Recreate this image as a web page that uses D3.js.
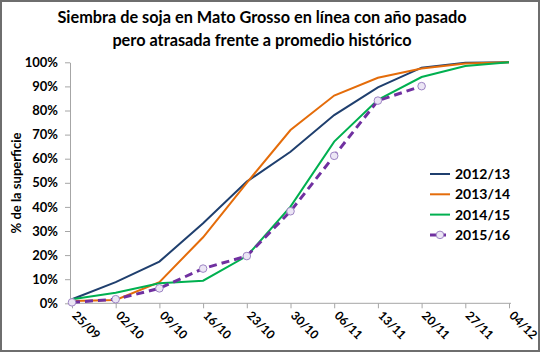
<!DOCTYPE html>
<html>
<head>
<meta charset="utf-8">
<script src="https://cdn.jsdelivr.net/npm/d3@7"></script>
<style>
  body { margin: 0; background: #fff; }
  svg { display: block; font-family: "Lato", "Open Sans", sans-serif; }
</style>
</head>
<body>
<div id="chart"></div>
<script>
// Week labels (x axis)
const weeks = ["25/09", "02/10", "09/10", "16/10", "23/10", "30/10", "06/11", "13/11", "20/11", "27/11", "04/12"];

// Planted share, % of area
const s2012 = [1.7, 8.8, 17.3, 33.2, 50.5, 62.9, 78.1, 89.6, 97.8, 99.8, 100];
const s2013 = [1.0, 1.4, 8.8, 27.4, 50.0, 71.9, 86.2, 93.6, 97.4, 99.5, 100];
const s2014 = [1.7, 4.4, 8.3, 9.4, 19.6, 40.1, 67.1, 84.4, 93.9, 98.5, 100];
const s2015 = [0.4, 1.7, 6.2, 14.4, 19.6, 38.2, 61.2, 84.1, 90.1];

const seriesNames = ["2012/13", "2013/14", "2014/15", "2015/16"];
const yTicks = [0, 10, 20, 30, 40, 50, 60, 70, 80, 90, 100];

function init() {
  const width = 540, height = 352;

  const svg = d3.select("#chart")
    .append("svg")
      .attr("width", width)
      .attr("height", height);

  // outer frame
  svg.append("rect")
    .attr("x", 1).attr("y", 1)
    .attr("width", width - 2).attr("height", height - 2)
    .attr("fill", "#fff")
    .attr("stroke", "#6e6e6e")
    .attr("stroke-width", 2);

  // Title
  const title = svg.append("text")
    .attr("text-anchor", "middle")
    .attr("font-weight", "bold")
    .attr("font-size", "16.3px")
    .attr("fill", "#000");
  title.append("tspan").attr("x", 262).attr("y", 23).text("Siembra de soja en Mato Grosso en línea con año pasado");
  title.append("tspan").attr("x", 262).attr("y", 46).text("pero atrasada frente a promedio histórico");

  // Scales
  const x = d3.scalePoint()
    .domain(weeks)
    .range([72, 509]);

  const y = d3.scaleLinear()
    .domain([0, 100])
    .range([303.3, 62.3]);

  // Y axis
  const yAxis = svg.append("g")
    .attr("transform", "translate(70,0)")
    .call(d3.axisLeft(y).tickValues(yTicks).tickFormat(d => d + "%").tickSize(5).tickSizeOuter(0));
  yAxis.select(".domain").attr("stroke", "#a6a6a6");
  yAxis.selectAll(".tick line").attr("stroke", "#a6a6a6").attr("x2", -5);
  yAxis.selectAll(".tick text")
    .attr("x", -12)
    .attr("font-family", "Lato, sans-serif")
    .attr("font-size", "13px")
    .attr("font-weight", "bold")
    .attr("fill", "#000");

  // X axis
  const xAxis = svg.append("g")
    .attr("transform", "translate(0,303.3)")
    .call(d3.axisBottom(x).tickSize(5).tickSizeOuter(0));
  xAxis.select(".domain").attr("stroke", "#a6a6a6").attr("d", "M70,0H511");
  xAxis.selectAll(".tick line").attr("stroke", "#a6a6a6");
  xAxis.selectAll(".tick text")
    .attr("font-family", "Lato, sans-serif")
    .attr("font-size", "12px")
    .attr("font-weight", "bold")
    .attr("fill", "#000")
    .attr("text-anchor", "start")
    .attr("dy", null)
    .attr("y", 0)
    .attr("transform", "translate(-1,13) rotate(45)");

  // Y axis title
  svg.append("text")
    .attr("transform", "translate(21,183) rotate(-90)")
    .attr("text-anchor", "middle")
    .attr("font-size", "13px")
    .attr("font-weight", "bold")
    .text("% de la superficie");

  const line = d3.line()
    .x((d, i) => x(weeks[i]))
    .y(d => y(d));

  const series = [
    { name: seriesNames[0], values: s2012, color: "#1f3f6e", dash: null },
    { name: seriesNames[1], values: s2013, color: "#e46c0a", dash: null },
    { name: seriesNames[2], values: s2014, color: "#00b050", dash: null },
    { name: seriesNames[3], values: s2015, color: "#7030a0", dash: "8,5" }
  ];

  series.forEach(s => {
    svg.append("path")
      .datum(s.values)
      .attr("fill", "none")
      .attr("stroke", s.color)
      .attr("stroke-width", s.dash ? 3 : 2)
      .attr("stroke-dasharray", s.dash)
      .attr("d", line);
  });

  // markers of 2015/16
  svg.selectAll(".marker")
    .data(s2015)
    .enter()
    .append("circle")
      .attr("class", "marker")
      .attr("cx", (d, i) => x(weeks[i]))
      .attr("cy", d => y(d))
      .attr("r", 3.8)
      .attr("fill", "#ece6f5")
      .attr("stroke", "#9d84c4")
      .attr("stroke-width", 1);

  // Legend
  const legend = svg.append("g");
  series.forEach((s, i) => {
    const ly = 174 + i * 20.3;
    legend.append("line")
      .attr("x1", 430).attr("x2", 450)
      .attr("y1", ly).attr("y2", ly)
      .attr("stroke", s.color)
      .attr("stroke-width", s.dash ? 3 : 2)
      .attr("stroke-dasharray", s.dash ? "6,4" : null);
    if (s.dash) {
      legend.append("circle")
        .attr("cx", 440).attr("cy", ly).attr("r", 3.8)
        .attr("fill", "#ece6f5").attr("stroke", "#9d84c4");
    }
    legend.append("text")
      .attr("x", 455).attr("y", ly + 5)
      .attr("font-size", "14px")
      .attr("font-weight", "bold")
      .text(s.name);
  });
}

window.onload = init;
</script>
</body>
</html>
